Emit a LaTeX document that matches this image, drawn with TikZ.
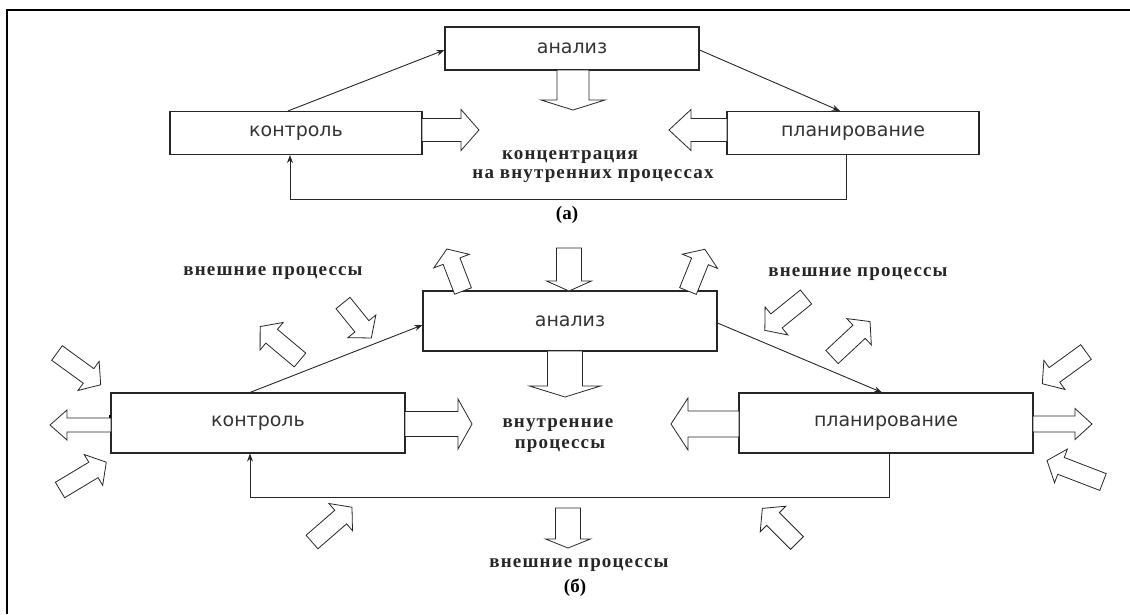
\documentclass[tikz,border=0pt]{standalone}
\usepackage{fontspec}
\setmainfont{Liberation Serif}
\newfontfamily\boxfont{DejaVu Sans}
\newfontfamily\spfont[LetterSpace=6]{Liberation Serif}
\usetikzlibrary{arrows.meta,calc}
\tikzset{
  box/.style={draw=black!85, line width=1.1pt, minimum width=#1, inner sep=0pt, font=\boxfont\fontsize{19}{22}\selectfont, text=black!80},
  conn/.style={draw=black!85, line width=0.9pt, -{Stealth[length=8pt,width=6pt]}},
  blk/.style={draw=black!85, line width=0.8pt, fill=white, line join=miter},
  stxt/.style={font=\spfont\bfseries\fontsize{19}{22}\selectfont, text=black!85, inner sep=0pt},
  lbl/.style={font=\bfseries\fontsize{19}{22}\selectfont, inner sep=0pt},
}
\newcommand\barr[7]{\begin{scope}[shift={(#1,#2)},rotate=#3]
  \draw[blk] (0,-#5) -- ({#4-#7},-#5) -- ({#4-#7},-#6) -- (#4,0) -- ({#4-#7},#6) -- ({#4-#7},#5) -- (0,#5) -- cycle;
\end{scope}}
\begin{document}
\begin{tikzpicture}[x=1pt,y=-1pt]
\useasboundingbox (0,0) rectangle (1130,614);
% frame
\draw[line width=2pt] (7,614) -- (7,10) -- (1130,10);
% ---------- (a) ----------
\node[box=254pt, minimum height=43pt] (a1) at (572,48.5) {анализ};
\node[box=252pt, minimum height=43pt] (k1) at (296,133) {контроль};
\node[box=252pt, minimum height=43pt] (p1) at (853,133) {планирование};
\draw[conn] ([xshift=-8pt]k1.north) -- ([yshift=-1.5pt]a1.west);
\draw[conn] ([yshift=-1.5pt]a1.east) -- ([xshift=-13pt]p1.north);
\draw[conn] ([xshift=-7pt]p1.south) -- ++(0,44.5) -| ([xshift=-6pt]k1.south);
\barr{573}{70}{-90}{40}{16}{32}{10}
\barr{422}{130}{0}{57}{11.5}{20.5}{18}
\barr{727}{130}{180}{58}{11.5}{20.5}{22}
\node[stxt] (t1) at (570,157) {концентрация};
\node[stxt] (t2) at (593,176) {на внутренних процессах};
\node[lbl] (la) at (567,215) {(а)};
% ---------- (b) ----------
\node[box=294pt, minimum height=60pt] (a2) at (570,321) {анализ};
\node[box=294pt, minimum height=60pt] (k2) at (258,423) {контроль};
\node[box=294pt, minimum height=60pt] (p2) at (886,423) {планирование};
\draw[conn] ([xshift=-8pt]k2.north) -- ([yshift=-4pt]a2.west);
\draw[conn] ([yshift=-2pt]a2.east) -- ([xshift=-4pt]p2.north);
\draw[conn] ([xshift=3pt]p2.south) -- ++(0,44) -| ([xshift=-8pt]k2.south);
\draw[line width=2pt] ([yshift=-5pt]k2.west) -- ([yshift=8pt]k2.west);
% block arrows
\barr{405}{424}{0}{67}{12.5}{25}{14}
\barr{111}{425}{180}{61}{7}{15}{17}
\barr{739}{424}{180}{68}{13}{26}{17}
\barr{1033}{424}{0}{59}{8}{15.5}{17}
\barr{565}{351}{-90}{46}{17.5}{35.5}{11}
\barr{569}{248}{-90}{43}{12.5}{22.5}{10}
\barr{568}{508}{-90}{40}{12.5}{22.5}{9}
\barr{463}{291}{111}{45}{9}{19}{13}
\barr{688}{291}{68}{45}{9}{19}{13}
\barr{300}{360}{140}{52}{9}{18}{15}
\barr{343}{303}{-51}{45}{9}{18}{15}
\barr{57}{353}{-36}{54}{9}{18}{15}
\barr{60}{490}{31}{54}{9}{18}{15}
\barr{312}{542}{41}{53}{9}{18}{15}
\barr{797}{543}{135}{49}{9}{18}{15}
\barr{806}{297}{-141}{53}{9}{18}{15}
\barr{832}{357}{43}{52}{9}{18}{15}
\barr{1086}{352}{-144}{54}{9}{18}{15}
\barr{1103}{482}{159}{60}{9}{18}{15}
% texts
\node[stxt] (e1) at (273,273) {внешние процессы};
\node[stxt] (e2) at (858,274) {внешние процессы};
\node[stxt] (e3) at (579,565) {внешние процессы};
\node[stxt] (i1) at (558,425) {внутренние};
\node[stxt] (i2) at (560,446) {процессы};
\node[lbl] (lb) at (575,588) {(б)};
\end{tikzpicture}
\end{document}
